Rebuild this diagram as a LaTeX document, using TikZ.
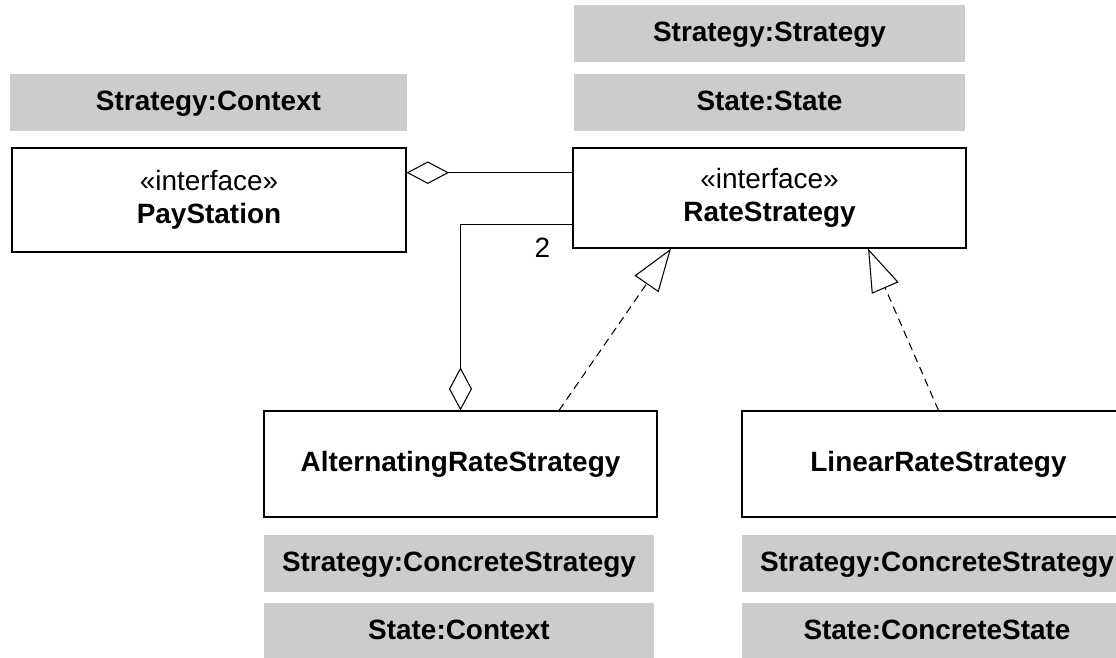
\documentclass[tikz,border=0pt]{standalone}
\usepackage{fontspec}
\setmainfont{Liberation Sans}
\usetikzlibrary{arrows.meta,positioning,calc}
\definecolor{tagGray}{HTML}{CCCCCC}

\begin{document}
\begin{tikzpicture}[
    x=0.02cm, y=-0.02cm,
    font=\fontsize{15.9}{19}\selectfont,
    role tag/.style={fill=tagGray, inner sep=0pt, minimum height=1.14cm, text height=11.6pt, text depth=2.2pt, font=\fontsize{15.9}{19}\selectfont\bfseries},
    class box/.style={draw, line width=0.7pt, inner sep=0pt, align=center},
    aggregation/.style={line width=0.6pt, {Diamond[open, length=0.85cm, width=0.45cm, line width=0.6pt]}-},
    realization/.style={line width=0.6pt, dash pattern=on 4.5pt off 3pt, -{Triangle[open, length=0.86cm, width=0.58cm, line width=0.6pt]}},
]

% Page frame
\clip (0,0) rectangle (1116,658);

% Classes
\node[class box, minimum width=7.88cm, minimum height=2.08cm] (payStation) at (209,200)
    {\guillemotleft interface\guillemotright\\\textbf{PayStation}};
\node[class box, minimum width=7.86cm, minimum height=2cm] (rateStrategy) at (769.5,198)
    {\guillemotleft interface\guillemotright\\\textbf{RateStrategy}};
\node[class box, minimum width=7.86cm, minimum height=2.12cm, font=\fontsize{15.9}{19}\selectfont\bfseries] (altRate) at (460.5,464)
    {AlternatingRateStrategy};
\node[class box, minimum width=7.86cm, minimum height=2.12cm, font=\fontsize{15.9}{19}\selectfont\bfseries] (linRate) at (938.5,464)
    {LinearRateStrategy};

% Pattern roles
\node[role tag, minimum width=7.94cm] (ctxTag) at (208.5,102.5) {Strategy:Context};
\node[role tag, minimum width=7.82cm] (strategyTag) at (769.5,33.5) {Strategy:Strategy};
\node[role tag, minimum width=7.82cm] (stateTag) at (769.5,102.5) {State:State};
\node[role tag, minimum width=7.8cm] (altStrategyTag) at (459,563.5) {Strategy:ConcreteStrategy};
\node[role tag, minimum width=7.8cm] (altStateTag) at (459,631.5) {State:Context};
\node[role tag, minimum width=7.8cm] (linStrategyTag) at (937,563.5) {Strategy:ConcreteStrategy};
\node[role tag, minimum width=7.8cm] (linStateTag) at (937,631.5) {State:ConcreteState};

% Connectors
\coordinate (aggOne) at ($(rateStrategy.north west)!0.25!(rateStrategy.south west)$);
\coordinate (aggTwo) at ($(rateStrategy.north west)!0.76!(rateStrategy.south west)$);
\draw[aggregation] (payStation.east |- aggOne) -- (aggOne);
\draw[aggregation, -{Diamond[open, length=0.86cm, width=0.46cm, line width=0.6pt]}] (aggTwo) -| (altRate.north);
\node (multTwo) at ($(aggTwo)+(-30,23)$) {2};

\draw[realization] ($(altRate.north west)!0.75!(altRate.north east)$)
    -- ($(rateStrategy.south west)!0.25!(rateStrategy.south east)$);
\draw[realization] ($(linRate.north west)!0.5!(linRate.north east)$)
    -- ($(rateStrategy.south west)!0.75!(rateStrategy.south east)$);

\end{tikzpicture}
\end{document}
